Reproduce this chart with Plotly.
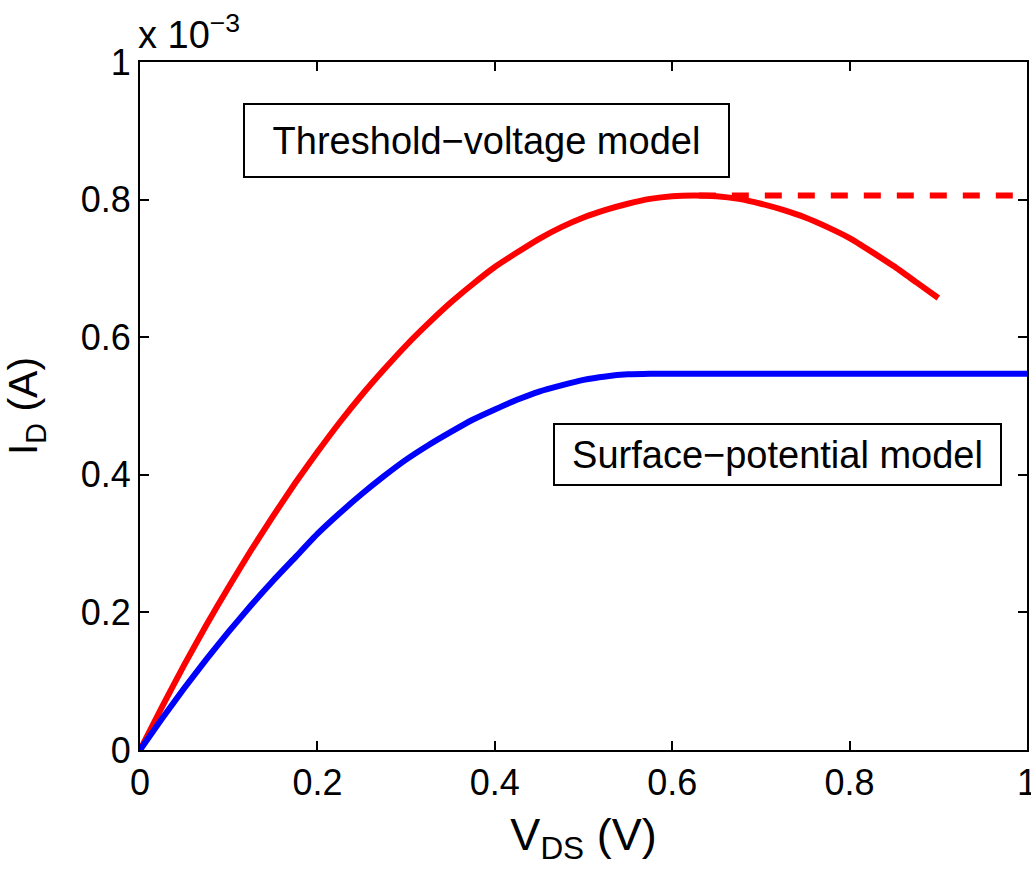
import plotly.graph_objects as go

# Drain-source voltage (V)
vds_red = [0.0, 0.025, 0.05, 0.075, 0.1, 0.125, 0.15, 0.175, 0.2, 0.225, 0.25, 0.275, 0.3,
           0.325, 0.35, 0.375, 0.4, 0.425, 0.45, 0.475, 0.5, 0.525, 0.55, 0.575, 0.6, 0.625,
           0.65, 0.675, 0.7, 0.725, 0.75, 0.775, 0.8, 0.825, 0.85, 0.875, 0.9]
# Threshold-voltage model drain current (x1e-3 A)
id_red = [0.0, 0.063, 0.124, 0.182, 0.237, 0.290, 0.340, 0.388, 0.433, 0.476, 0.516, 0.553,
          0.588, 0.620, 0.650, 0.677, 0.702, 0.723, 0.743, 0.760, 0.774, 0.785, 0.794, 0.801,
          0.805, 0.806, 0.805, 0.801, 0.794, 0.785, 0.774, 0.760, 0.744, 0.724, 0.703, 0.680,
          0.657]

# Saturation extension of threshold-voltage model (dashed)
vds_sat = [0.63, 1.0]
id_sat = [0.806, 0.806]

# Surface-potential model
vds_blue = [0.0, 0.025, 0.05, 0.075, 0.1, 0.125, 0.15, 0.175, 0.2, 0.225, 0.25, 0.275, 0.3,
            0.325, 0.35, 0.375, 0.4, 0.425, 0.45, 0.475, 0.5, 0.525, 0.55, 0.575, 0.6, 0.7,
            0.8, 0.9, 1.0]
id_blue = [0.0, 0.046, 0.090, 0.132, 0.172, 0.210, 0.246, 0.280, 0.314, 0.344, 0.372, 0.398,
           0.422, 0.443, 0.462, 0.480, 0.495, 0.509, 0.521, 0.530, 0.538, 0.543, 0.546,
           0.547, 0.547, 0.547, 0.547, 0.547, 0.547]

x_ticks = [0, 0.2, 0.4, 0.6, 0.8, 1]
x_ticktext = ["0", "0.2", "0.4", "0.6", "0.8", "1"]
y_ticks = [0, 0.2, 0.4, 0.6, 0.8, 1]
y_ticktext = ["0", "0.2", "0.4", "0.6", "0.8", "1"]

FONT = "Liberation Sans, Arial, Helvetica, sans-serif"

fig = go.Figure()
fig.add_trace(go.Scatter(x=vds_sat, y=id_sat, mode="lines",
                         line=dict(color="#ff0000", width=6, dash="17px,16px"),
                         cliponaxis=False, showlegend=False))
fig.add_trace(go.Scatter(x=vds_red, y=id_red, mode="lines",
                         line=dict(color="#ff0000", width=6, shape="spline", smoothing=0.5),
                         showlegend=False))
fig.add_trace(go.Scatter(x=vds_blue, y=id_blue, mode="lines",
                         line=dict(color="#0000ff", width=6, shape="spline", smoothing=0.5),
                         showlegend=False))

axis_common = dict(showline=True, linecolor="black", linewidth=2, mirror="ticks",
                   ticks="inside", ticklen=9, tickwidth=2, tickcolor="black",
                   showgrid=False, zeroline=False, automargin=False,
                   ticklabeloverflow="allow",
                   tickfont=dict(family=FONT, size=36, color="black"))

fig.update_xaxes(range=[0, 1], tickvals=x_ticks, ticktext=x_ticktext,
                 title=dict(text="V<sub>DS</sub> (V)", font=dict(family=FONT, size=45, color="black"),
                            standoff=16),
                 **axis_common)
fig.update_yaxes(range=[0, 1], tickvals=y_ticks, ticktext=y_ticktext,
                 title=dict(text="I<sub>D</sub> (A)", font=dict(family=FONT, size=41, color="black"),
                            standoff=36),
                 **axis_common)

fig.add_annotation(x=0, y=1, xref="paper", yref="paper", xanchor="left", yanchor="bottom",
                   text="x 10<sup>−3</sup>", showarrow=False, xshift=-4, yshift=4,
                   font=dict(family=FONT, size=38, color="black"))

fig.add_annotation(x=0.3906, y=0.886, xref="x", yref="y", xanchor="center", yanchor="middle",
                   text="Threshold−voltage model", showarrow=False,
                   width=483, height=71, align="center", valign="middle",
                   bordercolor="black", borderwidth=2, borderpad=0, bgcolor="white",
                   font=dict(family=FONT, size=38, color="black"))
fig.add_annotation(x=0.7187, y=0.4295, xref="x", yref="y", xanchor="center", yanchor="middle",
                   text="Surface−potential model", showarrow=False,
                   width=445, height=59, align="center", valign="middle",
                   bordercolor="black", borderwidth=2, borderpad=0, bgcolor="white",
                   font=dict(family=FONT, size=38, color="black"))

fig.update_layout(width=1031, height=869,
                  margin=dict(l=140, r=4, t=62, b=119, autoexpand=False),
                  paper_bgcolor="white", plot_bgcolor="white",
                  font=dict(family=FONT, color="black"))

# remove the default 8px page margin so the figure fills the window exactly
fig.write_html("out.html",
               config={"displayModeBar": False},
               post_script="document.body.style.margin='0';document.body.style.overflow='hidden';")
